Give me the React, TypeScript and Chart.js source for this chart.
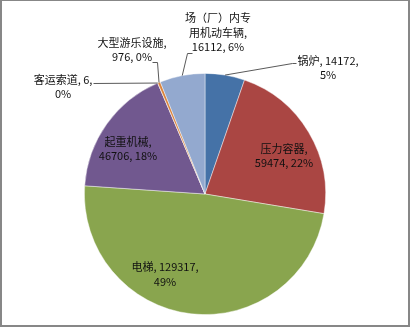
import React, { useEffect, useRef } from "react";
import { Chart, registerables } from "chart.js";

Chart.register(...registerables);

// ---- data ----
const categories = ["锅炉", "压力容器", "电梯", "起重机械", "客运索道", "大型游乐设施", "场（厂）内专用机动车辆"];
const values = [14172, 59474, 129317, 46706, 6, 976, 16112];
const percents = ["5%", "22%", "49%", "18%", "0%", "0%", "6%"];
const colors = ["#4572A7", "#AA4643", "#89A54E", "#71588F", "#4198AF", "#DB843D", "#93A9CF"];

// label text lines (built from the data arrays)
const labelLines: string[][] = [
  [`${categories[0]}, ${values[0]},`, percents[0]],
  [`${categories[1]},`, `${values[1]}, ${percents[1]}`],
  [`${categories[2]}, ${values[2]},`, percents[2]],
  [`${categories[3]},`, `${values[3]}, ${percents[3]}`],
  [`${categories[4]}, ${values[4]},`, percents[4]],
  [`${categories[5]},`, `${values[5]}, ${percents[5]}`],
  [categories[6].slice(0, 6), `${categories[6].slice(6)},`, `${values[6]}, ${percents[6]}`],
];

// ---- label layout (center x, first-line y, leader path) ----
const labelLayout: { x: number; y: number; lh: number; leader?: number[][] }[] = [
  { x: 328, y: 61, lh: 14, leader: [[292, 63], [296, 63]] },
  { x: 284, y: 149, lh: 13.5 },
  { x: 165, y: 267, lh: 14.5 },
  { x: 128, y: 142, lh: 13.5 },
  { x: 63, y: 80, lh: 14, leader: [[93, 83]] },
  { x: 132, y: 43, lh: 13.5, leader: [[157, 62], [152, 62]] },
  { x: 218, y: 18, lh: 14.5, leader: [[187, 53], [192, 53]] },
];

const labelPlugin = {
  id: "customLabels",
  afterDraw(chart: any) {
    const ctx = chart.ctx as CanvasRenderingContext2D;
    const meta = chart.getDatasetMeta(0);
    ctx.save();
    // leader lines
    ctx.strokeStyle = "#5a5a5a";
    ctx.lineWidth = 1;
    meta.data.forEach((arc: any, i: number) => {
      const lay = labelLayout[i];
      if (!lay.leader) return;
      const { x, y, startAngle, endAngle, outerRadius } = arc.getProps(
        ["x", "y", "startAngle", "endAngle", "outerRadius"],
        true
      );
      const mid = (startAngle + endAngle) / 2;
      const sx = x + Math.cos(mid) * outerRadius;
      const sy = y + Math.sin(mid) * outerRadius;
      ctx.beginPath();
      ctx.moveTo(sx, sy);
      lay.leader.forEach((p) => ctx.lineTo(p[0] + 0.5, p[1] + 0.5));
      ctx.stroke();
    });
    // texts
    ctx.fillStyle = "#111";
    ctx.font = '11px "Noto Sans CJK SC", sans-serif';
    ctx.textAlign = "center";
    ctx.textBaseline = "middle";
    labelLines.forEach((lines, i) => {
      const lay = labelLayout[i];
      lines.forEach((t, j) => ctx.fillText(t, lay.x, lay.y + j * lay.lh));
    });
    // frame
    ctx.fillStyle = "#878787";
    const W = chart.width;
    const H = chart.height;
    ctx.fillRect(0, 0, 2, H);
    ctx.fillRect(0, 0, W, 1);
    ctx.fillRect(W - 2, 0, 2, H);
    ctx.fillRect(0, H - 2, W, 2);
    ctx.restore();
  },
};

const bgPlugin = {
  id: "bg",
  beforeDraw(chart: any) {
    const ctx = chart.ctx;
    ctx.save();
    ctx.fillStyle = "#ffffff";
    ctx.fillRect(0, 0, chart.width, chart.height);
    ctx.restore();
  },
};

export default function App() {
  const ref = useRef<HTMLCanvasElement>(null);
  useEffect(() => {
    if (!ref.current) return;
    const chart = new Chart(ref.current, {
      type: "pie",
      data: {
        labels: categories,
        datasets: [
          {
            data: values,
            backgroundColor: colors,
            borderColor: "rgba(255,255,255,0.55)",
            borderWidth: 0.8,
          },
        ],
      },
      options: {
        responsive: false,
        animation: false,
        layout: { padding: { top: 73, bottom: 12, left: 20, right: 20 } },
        plugins: {
          legend: { display: false },
          tooltip: { enabled: false },
        },
      },
      plugins: [bgPlugin, labelPlugin],
    });
    return () => chart.destroy();
  }, []);
  return (
    <div style={{ position: "fixed", left: 0, top: 0, width: 410, height: 327 }}>
      <canvas ref={ref} width={410} height={327} style={{ width: 410, height: 327, display: "block" }} />
    </div>
  );
}
